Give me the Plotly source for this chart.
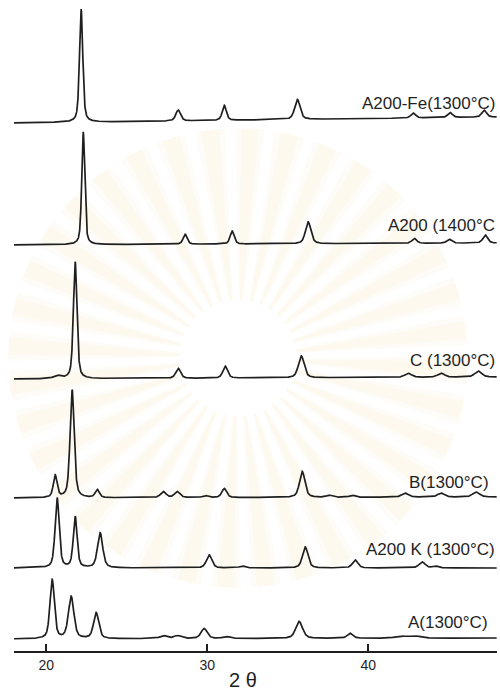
import numpy as np
import plotly.graph_objects as go

# X-ray diffraction patterns, stacked from bottom (A) to top (A200-Fe)
SAMPLES = ["A200-Fe(1300°C)", "A200 (1400°C", "C (1300°C)",
           "B(1300°C)", "A200 K (1300°C)", "A(1300°C)"]

# vertical offset of each pattern (arbitrary intensity units)
OFFSETS = [528, 406, 272, 153, 83, 12]
# slight rise of the background from left to right
DRIFT = [6, 2, 2, 1, 0, 1]

# reflections: 2-theta position (deg), peak height, FWHM (deg)
FE_POS = [22.17, 28.2, 31.06, 35.6, 42.8, 45.09, 47.2]
FE_HGT = [113, 11, 15, 20, 5, 5, 7]
FE_WID = [0.24, 0.35, 0.3, 0.4, 0.35, 0.35, 0.35]

A14_POS = [22.3, 28.63, 31.55, 36.27, 42.86, 45.03, 47.27]
A14_HGT = [113, 10, 13, 22, 5, 4, 8]
A14_WID = [0.22, 0.3, 0.3, 0.4, 0.35, 0.35, 0.35]

C_POS = [20.68, 21.8, 28.2, 31.12, 35.84, 42.48, 44.53, 46.83]
C_HGT = [3, 117, 10, 12, 22, 4, 4, 6]
C_WID = [0.5, 0.26, 0.35, 0.35, 0.42, 0.5, 0.5, 0.5]

B_POS = [20.56, 21.61, 23.17, 27.27, 28.14, 29.88, 31.06, 35.9, 37.58, 39.0, 42.3, 44.53, 46.7]
B_HGT = [22, 108, 8, 6, 6, 2, 9, 26, 2, 2, 4, 4, 5]
B_WID = [0.28, 0.3, 0.3, 0.4, 0.4, 0.4, 0.35, 0.4, 0.4, 0.4, 0.5, 0.5, 0.5]

K_POS = [20.68, 21.8, 23.35, 30.12, 32.17, 36.09, 39.19, 43.35, 44.16]
K_HGT = [70, 51, 35, 13, 2, 21, 8, 6, 2]
K_WID = [0.3, 0.28, 0.38, 0.4, 0.4, 0.4, 0.4, 0.45, 0.4]

A_POS = [20.37, 21.55, 23.1, 27.27, 28.14, 29.81, 31.18, 35.71, 38.88, 42.0, 42.9]
A_HGT = [59, 42, 26, 3, 3, 10, 2, 17, 5, 2, 2]
A_WID = [0.32, 0.4, 0.38, 0.5, 0.5, 0.45, 0.5, 0.5, 0.4, 0.8, 0.8]

PEAKS = [(FE_POS, FE_HGT, FE_WID), (A14_POS, A14_HGT, A14_WID),
         (C_POS, C_HGT, C_WID), (B_POS, B_HGT, B_WID),
         (K_POS, K_HGT, K_WID), (A_POS, A_HGT, A_WID)]

TICKS = [20, 30, 40]
X_RANGE = [18, 48]
Y_RANGE = [0, 651]

LABEL_X = [48.0, 48.0, 48.0, 47.64, 48.0, 47.58]
LABEL_Y = [548, 426, 291, 169, 102, 29]

INK = "#1f1f1f"


def pattern(x, pos, hgt, wid, eta=0.5):
    """Pseudo-Voigt sum of reflections."""
    y = np.zeros_like(x)
    for p, h, w in zip(pos, hgt, wid):
        g = np.exp(-4 * np.log(2) * ((x - p) / w) ** 2)
        lor = 1.0 / (1.0 + 4 * ((x - p) / w) ** 2)
        y += h * (eta * lor + (1 - eta) * g)
    return y


x = np.linspace(17.95, 47.98, 4000)

fig = go.Figure()
for name, off, drift, (pos, hgt, wid) in zip(SAMPLES, OFFSETS, DRIFT, PEAKS):
    base = off + drift * (x - x[0]) / (x[-1] - x[0])
    fig.add_trace(go.Scatter(
        x=x, y=base + pattern(x, pos, hgt, wid), mode="lines", name=name,
        line=dict(color=INK, width=1.7), showlegend=False, hoverinfo="skip"))

for name, lx, ly in zip(SAMPLES, LABEL_X, LABEL_Y):
    fig.add_annotation(x=lx, y=ly, xref="x", yref="y", text=name,
                       showarrow=False, xanchor="right", yanchor="middle",
                       font=dict(family="Liberation Sans", size=17, color=INK))

fig.add_annotation(x=0.474, y=-0.045, xref="paper", yref="paper", text="2 θ",
                   showarrow=False, xanchor="center", yanchor="middle",
                   font=dict(family="Liberation Sans", size=20, color=INK))

# faint, soft sunburst emblem printed behind the traces
W, H, L = 483.0, 651.0, 14.0
cx, cy = 238.0, 358.0
shapes = []
n_rays = 36
for k in range(n_rays):
    a0 = 2 * np.pi * (k + 0.3) / n_rays
    for spread, alpha in ((0.75, 0.05), (0.45, 0.06)):
        half = np.pi / n_rays * spread
        r_in, r_out = 58.0, 230.0
        pts = [(cx + r_in * np.cos(a0 - half * 0.5), cy + r_in * np.sin(a0 - half * 0.5)),
               (cx + r_out * np.cos(a0 - half), cy + r_out * np.sin(a0 - half)),
               (cx + r_out * np.cos(a0 + half), cy + r_out * np.sin(a0 + half)),
               (cx + r_in * np.cos(a0 + half * 0.5), cy + r_in * np.sin(a0 + half * 0.5))]
        path = "M " + " L ".join(
            f"{(px - L) / W:.4f},{(H - py) / H:.4f}" for px, py in pts) + " Z"
        shapes.append(dict(type="path", path=path, xref="paper", yref="paper",
                           fillcolor=f"rgba(240,200,110,{alpha})",
                           line=dict(width=0), layer="below"))

fig.update_layout(
    width=500, height=691,
    margin=dict(l=14, r=3, t=0, b=40),
    paper_bgcolor="white", plot_bgcolor="white",
    shapes=shapes,
    xaxis=dict(range=X_RANGE, tickvals=TICKS, ticks="inside", ticklen=7,
               tickwidth=1.5, tickcolor=INK, showline=True, linecolor=INK,
               linewidth=2, showgrid=False, zeroline=False,
               tickfont=dict(family="Liberation Sans", size=14, color=INK)),
    yaxis=dict(range=Y_RANGE, visible=False, showgrid=False, zeroline=False),
)

fig.write_html("out.html")
